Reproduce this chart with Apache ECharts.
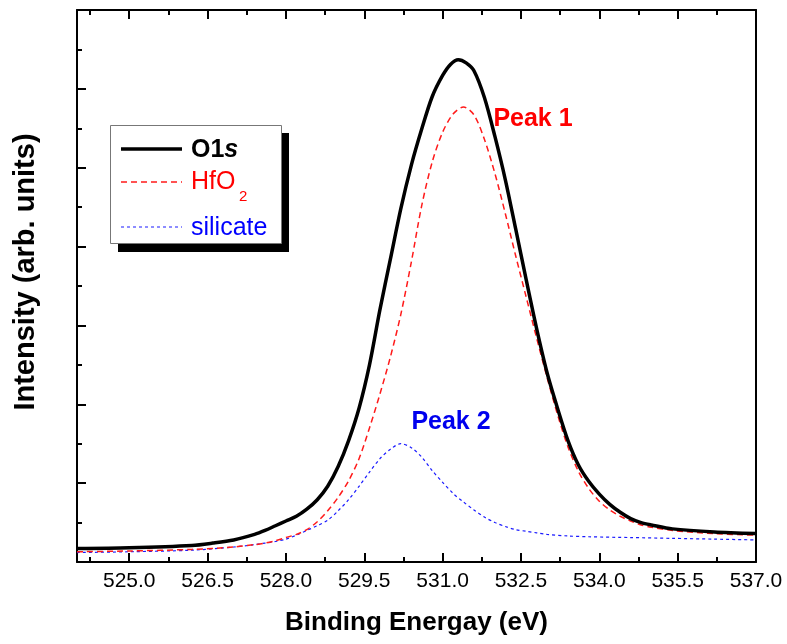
<!DOCTYPE html>
<html>
<head>
<meta charset="utf-8">
<script src="https://cdn.jsdelivr.net/npm/echarts@6/dist/echarts.min.js"></script>
<style>
html,body{margin:0;padding:0;background:#fff;}
#c{width:787px;height:644px;}
</style>
</head>
<body>
<div id="c"></div>
<script>
// ---- data ----
const majorTicks = [525.0, 526.5, 528.0, 529.5, 531.0, 532.5, 534.0, 535.5, 537.0];
const minorTicks = [524.25, 525.75, 527.25, 528.75, 530.25, 531.75, 533.25, 534.75, 536.25];

const o1sX = [524.0, 525.0, 526.2, 526.6, 527.0, 527.4, 527.6, 527.8, 528.0, 528.2, 528.4, 528.6, 528.8, 529.0, 529.2, 529.4, 529.6, 529.8, 530.0, 530.2, 530.4, 530.6, 530.8, 531.0, 531.15, 531.3, 531.45, 531.6, 531.8, 532.0, 532.2, 532.4, 532.6, 532.8, 533.0, 533.2, 533.4, 533.6, 533.8, 534.0, 534.2, 534.4, 534.6, 534.8, 535.0, 535.4, 536.2, 537.0];
const o1sY = [0.17, 0.18, 0.21, 0.24, 0.28, 0.35, 0.40, 0.46, 0.52, 0.58, 0.67, 0.79, 0.96, 1.21, 1.54, 1.95, 2.50, 3.20, 3.84, 4.48, 5.03, 5.49, 5.90, 6.17, 6.31, 6.37, 6.33, 6.23, 5.89, 5.40, 4.85, 4.22, 3.58, 2.96, 2.40, 1.95, 1.54, 1.23, 1.02, 0.86, 0.73, 0.63, 0.55, 0.50, 0.47, 0.42, 0.38, 0.36];

const hfo2X = [524.0, 525.0, 526.2, 527.0, 527.4, 527.6, 527.8, 528.0, 528.2, 528.4, 528.6, 528.8, 529.0, 529.2, 529.4, 529.6, 529.8, 530.0, 530.2, 530.4, 530.6, 530.8, 531.0, 531.2, 531.4, 531.6, 531.8, 532.0, 532.2, 532.4, 532.6, 532.8, 533.0, 533.2, 533.4, 533.6, 533.8, 534.0, 534.2, 534.4, 534.6, 534.8, 535.0, 535.4, 536.2, 537.0];
const hfo2Y = [0.13, 0.14, 0.16, 0.19, 0.22, 0.24, 0.27, 0.31, 0.35, 0.41, 0.51, 0.65, 0.82, 1.03, 1.31, 1.70, 2.13, 2.60, 3.14, 3.80, 4.52, 5.07, 5.45, 5.68, 5.77, 5.67, 5.36, 4.93, 4.42, 3.88, 3.36, 2.84, 2.34, 1.87, 1.46, 1.15, 0.93, 0.77, 0.66, 0.58, 0.52, 0.47, 0.44, 0.40, 0.36, 0.34];

const silX = [524.0, 525.0, 526.2, 527.0, 527.4, 527.6, 527.8, 528.0, 528.2, 528.4, 528.6, 528.8, 529.0, 529.2, 529.4, 529.6, 529.8, 530.0, 530.2, 530.4, 530.6, 530.8, 531.0, 531.2, 531.4, 531.6, 531.8, 532.0, 532.2, 532.4, 532.6, 532.8, 533.0, 533.4, 533.8, 534.6, 535.4, 536.2, 537.0];
const silY = [0.12, 0.13, 0.15, 0.19, 0.22, 0.24, 0.26, 0.29, 0.34, 0.40, 0.46, 0.53, 0.65, 0.79, 0.96, 1.14, 1.31, 1.43, 1.50, 1.45, 1.33, 1.16, 1.01, 0.87, 0.76, 0.66, 0.57, 0.50, 0.45, 0.41, 0.39, 0.37, 0.35, 0.33, 0.32, 0.31, 0.30, 0.29, 0.28];

const xMin = 524.0, xMax = 537.0, yMin = 0, yMax = 7;
// ---------------------------------------

const zip = (xs, ys) => xs.map((x, i) => [x, ys[i]]);
const ARIAL = "Arial, 'Liberation Sans', sans-serif";

const gridRect = {left: 77, right: 31, top: 10, bottom: 82};

function xAx(gridIndex, position, ticks, len, showLabel, extra) {
  return Object.assign({
    type: 'value', gridIndex, position, min: xMin, max: xMax,
    axisLine: {show: gridIndex === 0, onZero: false, lineStyle: {color: '#000', width: 2}},
    axisTick: {show: true, inside: true, length: len, customValues: ticks, lineStyle: {color: '#000', width: 2}},
    axisLabel: {show: showLabel, customValues: ticks, formatter: v => v.toFixed(1), color: '#000',
      fontSize: 21, fontFamily: ARIAL, margin: 9},
    splitLine: {show: false}
  }, extra || {});
}

const option = {
  animation: false,
  backgroundColor: '#fff',
  grid: [Object.assign({}, gridRect), Object.assign({}, gridRect)],
  xAxis: [
    xAx(0, 'bottom', majorTicks, 9, true, {
      name: 'Binding Energay (eV)', nameLocation: 'middle', nameGap: 48,
      nameTextStyle: {fontSize: 26, fontWeight: 'bold', fontFamily: ARIAL, color: '#000'}
    }),
    xAx(0, 'top', majorTicks, 9, false),
    xAx(1, 'bottom', minorTicks, 5, false),
    xAx(1, 'top', minorTicks, 5, false)
  ],
  yAxis: [
    {type: 'value', gridIndex: 0, position: 'left', min: yMin, max: yMax, interval: 1,
      axisLine: {show: true, onZero: false, lineStyle: {color: '#000', width: 2}},
      axisTick: {show: true, inside: true, length: 9, lineStyle: {color: '#000', width: 2}},
      minorTick: {show: true, splitNumber: 2, length: 5, lineStyle: {color: '#000', width: 2}},
      axisLabel: {show: false}, splitLine: {show: false}},
    {type: 'value', gridIndex: 0, position: 'right', min: yMin, max: yMax,
      axisLine: {show: true, onZero: false, lineStyle: {color: '#000', width: 2}},
      axisTick: {show: false}, axisLabel: {show: false}, splitLine: {show: false}},
    {type: 'value', gridIndex: 1, min: yMin, max: yMax, show: false}
  ],
  series: [
    {name: 'O1s', type: 'line', xAxisIndex: 0, yAxisIndex: 0, data: zip(o1sX, o1sY),
      showSymbol: false, smooth: 0.3, z: 5,
      lineStyle: {color: '#000', width: 3.5}},
    {name: 'HfO2', type: 'line', xAxisIndex: 0, yAxisIndex: 0, data: zip(hfo2X, hfo2Y),
      showSymbol: false, smooth: 0.3, z: 4,
      lineStyle: {color: '#ff1a1a', width: 1.5, type: [6, 4]}},
    {name: 'silicate', type: 'line', xAxisIndex: 0, yAxisIndex: 0, data: zip(silX, silY),
      showSymbol: false, smooth: 0.3, z: 3,
      lineStyle: {color: '#1a1aff', width: 1.2, type: [3, 3]}}
  ],
  graphic: [
    {type: 'text', x: 26, y: 272, rotation: Math.PI / 2,
      style: {text: 'Intensity (arb. units)', font: 'bold 29px ' + ARIAL, fill: '#000',
        textAlign: 'center', textVerticalAlign: 'middle'}},
    {type: 'text', x: 533, y: 119,
      style: {text: 'Peak 1', font: 'bold 25px ' + ARIAL, fill: '#ff0000', textAlign: 'center', textVerticalAlign: 'middle'}},
    {type: 'text', x: 451, y: 422,
      style: {text: 'Peak 2', font: 'bold 25px ' + ARIAL, fill: '#0000ee', textAlign: 'center', textVerticalAlign: 'middle'}},
    {type: 'rect', shape: {x: 118, y: 133, width: 171, height: 119}, style: {fill: '#000'}, z: 10},
    {type: 'rect', shape: {x: 110.5, y: 125.5, width: 171, height: 118}, style: {fill: '#fff', stroke: '#777', lineWidth: 1}, z: 11},
    {type: 'line', shape: {x1: 121, y1: 149, x2: 182, y2: 149}, style: {stroke: '#000', lineWidth: 3.5}, z: 12},
    {type: 'line', shape: {x1: 121, y1: 182, x2: 182, y2: 182}, style: {stroke: '#ff1a1a', lineWidth: 1.5, lineDash: [6, 4]}, z: 12},
    {type: 'line', shape: {x1: 121, y1: 227, x2: 182, y2: 227}, style: {stroke: '#1a1aff', lineWidth: 1.2, lineDash: [3, 3]}, z: 12},
    {type: 'text', x: 191, y: 150, z: 12,
      style: {text: '{a|O1}{b|s}', textVerticalAlign: 'middle',
        rich: {a: {font: 'bold 25px ' + ARIAL, fill: '#000'}, b: {font: 'italic bold 25px ' + ARIAL, fill: '#000'}}}},
    {type: 'text', x: 191, y: 182, z: 12,
      style: {text: 'HfO', font: '25px ' + ARIAL, fill: '#ff0000', textVerticalAlign: 'middle'}},
    {type: 'text', x: 239, y: 197, z: 12,
      style: {text: '2', font: '15px ' + ARIAL, fill: '#ff0000', textVerticalAlign: 'middle'}},
    {type: 'text', x: 191, y: 228, z: 12,
      style: {text: 'silicate', font: '25px ' + ARIAL, fill: '#0000ff', textVerticalAlign: 'middle'}}
  ]
};

const chart = echarts.init(document.getElementById('c'), null, {renderer: 'canvas'});
chart.setOption(option);
</script>
</body>
</html>
